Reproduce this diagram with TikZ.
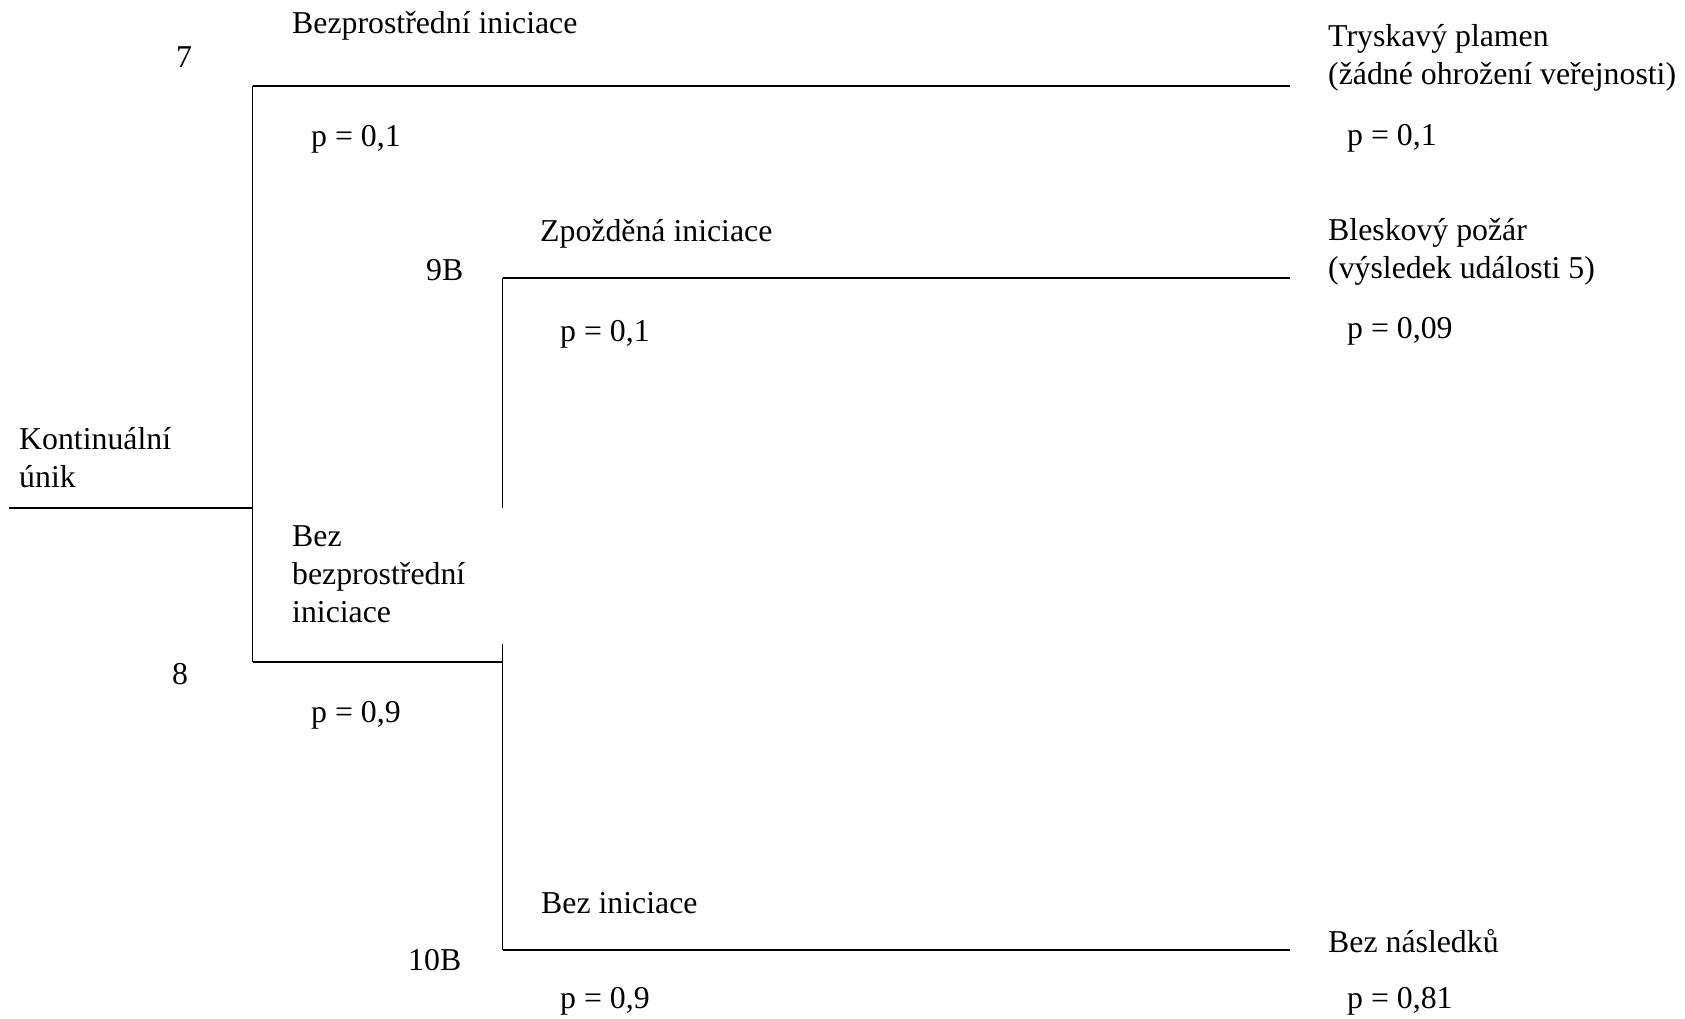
\documentclass[tikz,border=0pt]{standalone}
\usepackage{fontspec}
\setmainfont{Liberation Serif}
\begin{document}
\begin{tikzpicture}[x=1pt,y=-1pt,
  lbl/.style={anchor=base west,inner sep=0pt,font=\fontsize{31.8}{38}\selectfont},
  ml/.style={lbl,align=left},
  br/.style={line width=1.5pt,line cap=butt}]
\useasboundingbox (0,0) rectangle (1685,1019);
% tree points
\coordinate (s) at (9,508);
\coordinate (j1) at (252.5,508);
\coordinate (a1) at (252.5,86);
\coordinate (b1) at (252.5,662);
\coordinate (e1) at (1290,86);
\coordinate (j2) at (502.7,662);
\coordinate (a2) at (502.7,278);
\coordinate (g1) at (502.7,508);
\coordinate (g2) at (502.7,644);
\coordinate (b2) at (502.7,950);
\coordinate (e2) at (1290,278);
\coordinate (e3) at (1290,950);
% lines
\draw[br] (s) -- (j1);
\draw[br] (a1) -- (b1);
\draw[br] (a1) -- (e1);
\draw[br] (b1) -- (j2);
\draw[br] (a2) -- (g1);
\draw[br] (g2) -- (b2);
\draw[br] (a2) -- (e2);
\draw[br] (b2) -- (e3);
% labels
\node[lbl] (t1) at (292,34) {Bezprostřední iniciace};
\node[lbl] (n7) at (176,68) {7};
\node[lbl] (p1) at (311,147) {p = 0,1};
\node[lbl] (t2) at (540,241) {Zpožděná iniciace};
\node[lbl] (n9) at (426,280) {9B};
\node[lbl] (p2) at (560,341) {p = 0,1};
\node[ml] (ku) at (19,487) {Kontinuální\\únik};
\node[ml] (t3) at (292,622) {Bez\\bezprostřední\\iniciace};
\node[lbl] (n8) at (172,684) {8};
\node[lbl] (p3) at (311,722) {p = 0,9};
\node[lbl] (t4) at (541,913) {Bez iniciace};
\node[lbl] (n10) at (408,970) {10B};
\node[lbl] (p4) at (560,1008) {p = 0,9};
\node[ml] (r1) at (1328,85) {Tryskavý plamen\\(žádné ohrožení veřejnosti)};
\node[lbl] (q1) at (1347,146) {p = 0,1};
\node[ml] (r2) at (1328,278) {Bleskový požár\\(výsledek události 5)};
\node[lbl] (q2) at (1347,338) {p = 0,09};
\node[lbl] (r3) at (1328,952) {Bez následků};
\node[lbl] (q3) at (1347,1008) {p = 0,81};
\end{tikzpicture}
\end{document}
